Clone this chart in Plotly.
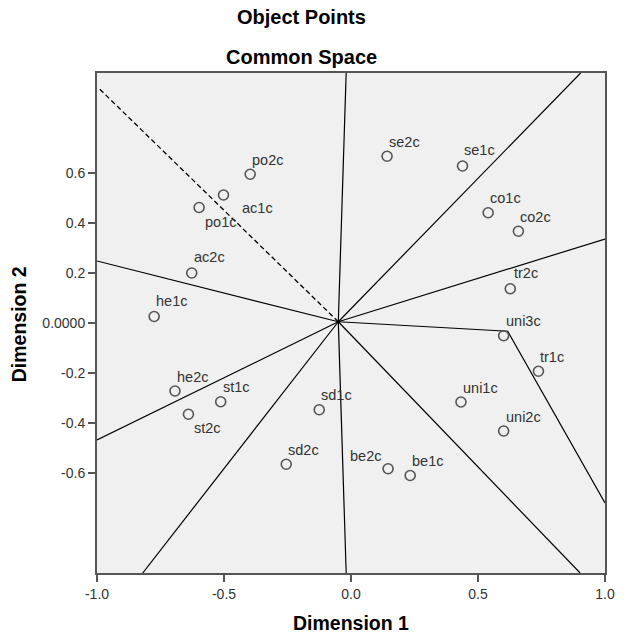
import plotly.graph_objects as go

# ---- data ----
labels = ["po2c", "ac1c", "po1c", "ac2c", "he1c", "he2c", "st1c", "st2c", "sd2c", "sd1c",
          "be2c", "be1c", "uni1c", "uni2c", "uni3c", "tr1c", "tr2c", "co1c", "co2c", "se2c", "se1c"]
dim1 = [-0.397, -0.502, -0.598, -0.627, -0.775, -0.693, -0.513, -0.640, -0.255, -0.125,
        0.146, 0.233, 0.433, 0.601, 0.601, 0.738, 0.627, 0.540, 0.659, 0.142, 0.439]
dim2 = [0.595, 0.512, 0.462, 0.200, 0.026, -0.272, -0.315, -0.365, -0.565, -0.347,
        -0.583, -0.610, -0.316, -0.432, -0.051, -0.193, 0.137, 0.441, 0.367, 0.667, 0.628]

# region boundary lines (from common centre outwards)
centre = (-0.05, 0.005)
boundary_x = [[-0.019], [0.904], [1.0], [0.617, 1.0], [0.902], [-0.019], [-0.82], [-1.0], [-1.0]]
boundary_y = [[1.0], [1.0], [0.336], [-0.033, -0.72], [-1.0], [-1.0], [-1.0], [-0.468], [0.248]]
dashed_x = [-0.99]
dashed_y = [0.936]

xtick_vals = [-1.0, -0.5, 0.0, 0.5, 1.0]
xtick_text = ["-1.0", "-0.5", "0.0", "0.5", "1.0"]
ytick_vals = [-0.6, -0.4, -0.2, 0.0, 0.2, 0.4, 0.6]
ytick_text = ["-0.6", "-0.4", "-0.2", "0.0000", "0.2", "0.4", "0.6"]

# ---- label placement (style: pixel offsets, anchor) ----
label_style = {
    "ac1c": (17, -13, "left"),
    "po1c": (4, -14, "left"),
    "st2c": (4, -14, "left"),
    "be2c": (-5, 13, "right"),
    "ac2c": (0, 16, "left"),
    "he1c": (0, 16, "left"),
    "tr2c": (2, 16, "left"),
    "se1c": (-1, 16, "left"),
}
default_style = (0, 14.5, "left")

fig = go.Figure()

line_col = "#000000"
for bx, by in zip(boundary_x, boundary_y):
    fig.add_trace(go.Scatter(x=[centre[0]] + bx, y=[centre[1]] + by, mode="lines",
                             line=dict(color=line_col, width=1.2), hoverinfo="skip",
                             showlegend=False))
fig.add_trace(go.Scatter(x=[centre[0]] + dashed_x, y=[centre[1]] + dashed_y, mode="lines",
                         line=dict(color=line_col, width=1.3, dash="5px,3px"), hoverinfo="skip",
                         showlegend=False))

fig.add_trace(go.Scatter(x=dim1, y=dim2, mode="markers", text=labels,
                         marker=dict(symbol="circle-open", size=10, color="#555555",
                                     line=dict(width=1.6, color="#555555")),
                         showlegend=False))

annotations = []
for lab, xv, yv in zip(labels, dim1, dim2):
    dx, dy, anchor = label_style.get(lab, default_style)
    annotations.append(dict(x=xv, y=yv, xref="x", yref="y", text=lab, showarrow=False,
                            xanchor=anchor, yanchor="middle", xshift=dx, yshift=dy,
                            font=dict(family="Liberation Sans, Arial, sans-serif", size=14.5,
                                      color="#333333")))

title_font = dict(family="Liberation Sans, Arial, sans-serif", size=20, color="#000000")
annotations.append(dict(text="<b>Object Points</b>", xref="paper", yref="paper", x=0.403, y=1.112,
                        xanchor="center", yanchor="middle", showarrow=False, font=title_font))
annotations.append(dict(text="<b>Common Space</b>", xref="paper", yref="paper", x=0.403, y=1.032,
                        xanchor="center", yanchor="middle", showarrow=False, font=title_font))
axis_title_font = dict(family="Liberation Sans, Arial, sans-serif", size=19.5, color="#000000")
annotations.append(dict(text="<b>Dimension 1</b>", xref="paper", yref="paper", x=0.5, y=-0.1,
                        xanchor="center", yanchor="middle", showarrow=False, font=axis_title_font))
annotations.append(dict(text="<b>Dimension 2</b>", xref="paper", yref="paper", x=-0.153, y=0.498,
                        xanchor="center", yanchor="middle", showarrow=False, textangle=-90,
                        font=axis_title_font))

tick_font = dict(family="Liberation Sans, Arial, sans-serif", size=14, color="#333333")
axis_common = dict(showgrid=False, zeroline=False, showline=True, mirror=True,
                   linecolor="#555555", linewidth=2, ticks="outside", ticklen=7,
                   tickwidth=2, tickcolor="#555555", tickfont=tick_font, fixedrange=True)

fig.update_layout(
    width=627, height=637,
    margin=dict(l=97, r=14, t=73, b=64),
    paper_bgcolor="white", plot_bgcolor="#F0F0F0",
    xaxis=dict(range=[-1, 1], tickvals=xtick_vals, ticktext=xtick_text, **axis_common),
    yaxis=dict(range=[-1, 1], tickvals=ytick_vals, ticktext=ytick_text, **axis_common),
    annotations=annotations,
    showlegend=False,
)

fig.write_html("out.html", config={"displayModeBar": False},
               post_script="document.body.style.margin='0';document.body.style.overflow='hidden';")
